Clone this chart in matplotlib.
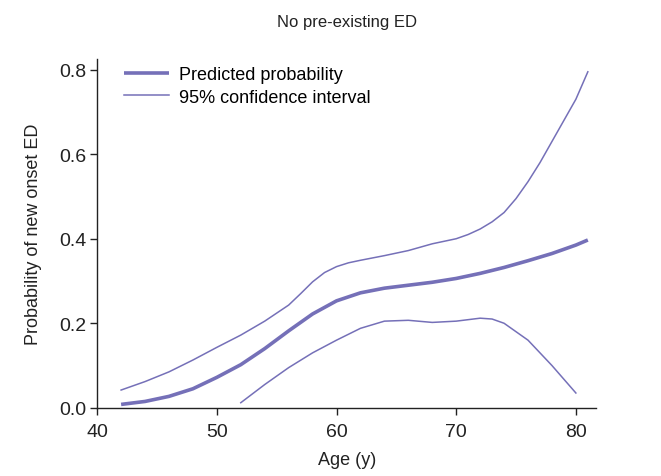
"""Predicted probability of new onset ED by age, no pre-existing ED."""

import matplotlib
matplotlib.use("Agg")
import matplotlib.pyplot as plt

plt.rcParams["font.family"] = ["Liberation Sans", "DejaVu Sans"]

LINE_COLOR = "#7570b8"

# Predicted probability
age_pred = [42, 44, 46, 48, 50, 52, 54, 56, 58, 60, 62, 64, 66, 68, 70,
            72, 74, 76, 78, 80, 81]
prob_pred = [0.008, 0.015, 0.027, 0.045, 0.072, 0.102, 0.14, 0.182, 0.222,
             0.253, 0.272, 0.283, 0.29, 0.297, 0.306, 0.318, 0.332, 0.348,
             0.365, 0.385, 0.397]

# 95% confidence interval, upper bound
age_upper = [42, 44, 46, 48, 50, 52, 54, 56, 57, 58, 59, 60, 61, 62, 64, 66,
             68, 70, 71, 72, 73, 74, 75, 76, 77, 78, 79, 80, 81]
prob_upper = [0.042, 0.062, 0.085, 0.113, 0.143, 0.172, 0.205, 0.243, 0.27,
              0.298, 0.32, 0.334, 0.343, 0.349, 0.36, 0.372, 0.388, 0.4,
              0.41, 0.423, 0.44, 0.462, 0.495, 0.535, 0.58, 0.63, 0.68, 0.73,
              0.795]

# 95% confidence interval, lower bound
age_lower = [52, 54, 56, 58, 60, 62, 64, 66, 68, 70, 72, 73, 74, 76, 78, 80]
prob_lower = [0.012, 0.055, 0.095, 0.13, 0.16, 0.188, 0.205, 0.207, 0.202,
              0.205, 0.212, 0.21, 0.2, 0.16, 0.1, 0.035]

fig = plt.figure(figsize=(6.61, 4.77), dpi=100)
ax = fig.add_axes([0.147, 0.143, 0.755, 0.731])

ax.plot(age_pred, prob_pred, color=LINE_COLOR, linewidth=2.6,
        solid_capstyle="butt", label="Predicted probability")
ax.plot(age_upper, prob_upper, color=LINE_COLOR, linewidth=1.1,
        label="95% confidence interval")
ax.plot(age_lower, prob_lower, color=LINE_COLOR, linewidth=1.1)

ax.set_xlim(40, 81.7)
ax.set_ylim(0, 0.825)
ax.set_xticks([40, 50, 60, 70, 80])
ax.set_yticks([0.0, 0.2, 0.4, 0.6, 0.8])
ax.set_yticklabels(["0.0", "0.2", "0.4", "0.6", "0.8"])

for side in ("top", "right"):
    ax.spines[side].set_visible(False)
for side in ("left", "bottom"):
    ax.spines[side].set_linewidth(1.0)
    ax.spines[side].set_color("#222222")

ax.tick_params(axis="both", labelsize=14, length=5, width=1.0,
               color="#222222", labelcolor="#222222", pad=3)
ax.tick_params(axis="x", pad=6)

ax.set_xlabel("Age (y)", fontsize=13, color="#222222", labelpad=8)
ax.set_ylabel("Probability of new onset ED", fontsize=13, color="#222222",
              labelpad=12)
ax.set_title("No pre-existing ED", fontsize=12, color="#222222", pad=24)

ax.legend(loc="upper left", bbox_to_anchor=(0.04, 1.0), frameon=False,
          fontsize=13, handlelength=2.5, handletextpad=0.55,
          labelspacing=0.3, borderaxespad=0.0)

fig.savefig("out.png", dpi=100)
